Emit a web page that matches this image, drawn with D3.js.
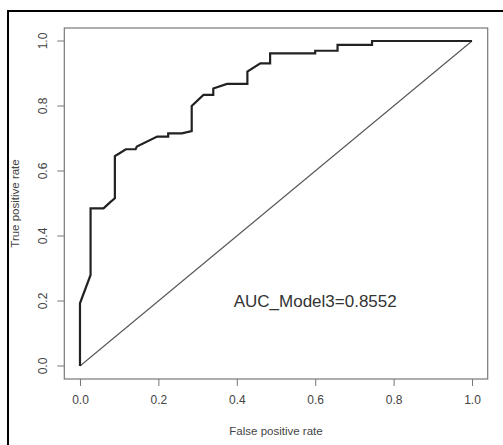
<!DOCTYPE html>
<html>
<head>
<meta charset="utf-8">
<style>
body { margin: 0; background: #fff; }
svg { display: block; font-family: "Liberation Sans", Arial, sans-serif; }
.axis text { fill: #444; font-size: 12px; }
.axis path, .axis line { stroke: #777; }
</style>
<script src="https://d3js.org/d3.v7.min.js"></script>
</head>
<body>
<svg width="503" height="445"></svg>
<script>

// ROC curve points
var fpr = [0, 0, 0.027, 0.027, 0.06, 0.078, 0.089, 0.089, 0.1, 0.117, 0.142, 0.145, 0.197, 0.225, 0.225, 0.26, 0.285, 0.285, 0.315, 0.34, 0.34, 0.375, 0.427, 0.427, 0.46, 0.485, 0.485, 0.6, 0.6, 0.657, 0.657, 0.745, 0.745, 1];
var tpr = [0, 0.193, 0.28, 0.485, 0.485, 0.505, 0.516, 0.646, 0.654, 0.667, 0.667, 0.675, 0.706, 0.706, 0.716, 0.716, 0.723, 0.8, 0.834, 0.834, 0.854, 0.868, 0.868, 0.906, 0.931, 0.931, 0.962, 0.962, 0.97, 0.97, 0.988, 0.988, 1, 1];
var ticks = [0, 0.2, 0.4, 0.6, 0.8, 1.0];
var aucLabel = "AUC_Model3=0.8552";

var svg = d3.select("svg");

// outer frame (only left and top edges show)
svg.append("path")
    .attr("d", "M8,445 L8,11 L503,11")
    .attr("fill", "none")
    .attr("stroke", "#000")
    .attr("stroke-width", 2);

// R style: 4% padding each side
var x = d3.scaleLinear().domain([-0.04, 1.04]).range([64.3, 487.7]);
var y = d3.scaleLinear().domain([-0.04, 1.04]).range([379, 28]);

svg.append("rect")
    .attr("x", x(-0.04)).attr("y", y(1.04))
    .attr("width", x(1.04) - x(-0.04))
    .attr("height", y(-0.04) - y(1.04))
    .attr("fill", "none")
    .attr("stroke", "#777")
    .attr("stroke-width", 1.2);

var xAxis = svg.append("g")
    .attr("class", "axis")
    .attr("transform", "translate(0," + y(-0.04) + ")")
    .call(d3.axisBottom(x).tickValues(ticks).tickSize(7).tickPadding(9).tickFormat(d3.format(".1f")));
xAxis.select(".domain").remove();

var yAxis = svg.append("g")
    .attr("class", "axis")
    .attr("transform", "translate(" + x(-0.04) + ",0)")
    .call(d3.axisLeft(y).tickValues(ticks).tickSize(7).tickFormat(d3.format(".1f")));
yAxis.select(".domain").remove();
// rotated tick labels, like R's las=0
yAxis.selectAll(".tick").attr("transform", null);
yAxis.selectAll(".tick line").attr("y1", function(d) { return y(d); }).attr("y2", function(d) { return y(d); });
yAxis.selectAll("text")
    .attr("x", 0).attr("y", 0).attr("dy", 0)
    .attr("text-anchor", "middle")
    .attr("dominant-baseline", "central")
    .attr("transform", function(d) { return "translate(-21," + y(d) + ") rotate(-90)"; });

// axis titles
svg.append("text")
    .attr("x", (x(-0.04) + x(1.04)) / 2)
    .attr("y", 435)
    .attr("text-anchor", "middle")
    .attr("fill", "#444")
    .attr("font-size", 11.5)
    .text("False positive rate");

svg.append("text")
    .attr("transform", "translate(19," + (y(-0.04) + y(1.04)) / 2 + ") rotate(-90)")
    .attr("text-anchor", "middle")
    .attr("fill", "#444")
    .attr("font-size", 11.5)
    .text("True positive rate");

// chance diagonal
svg.append("line")
    .attr("x1", x(0)).attr("y1", y(0))
    .attr("x2", x(1)).attr("y2", y(1))
    .attr("stroke", "#555")
    .attr("stroke-width", 1.1);

// ROC curve
var line = d3.line()
    .x(function(d, i) { return x(fpr[i]); })
    .y(function(d, i) { return y(tpr[i]); });

svg.append("path")
    .attr("d", line(fpr))
    .attr("fill", "none")
    .attr("stroke", "#222")
    .attr("stroke-width", 2.2)
    .attr("stroke-linejoin", "miter");

svg.append("text")
    .attr("x", x(0.6))
    .attr("y", y(0.2))
    .attr("dy", "0.35em")
    .attr("text-anchor", "middle")
    .attr("fill", "#333")
    .attr("font-size", 17)
    .text(aucLabel);

</script>
</body>
</html>
